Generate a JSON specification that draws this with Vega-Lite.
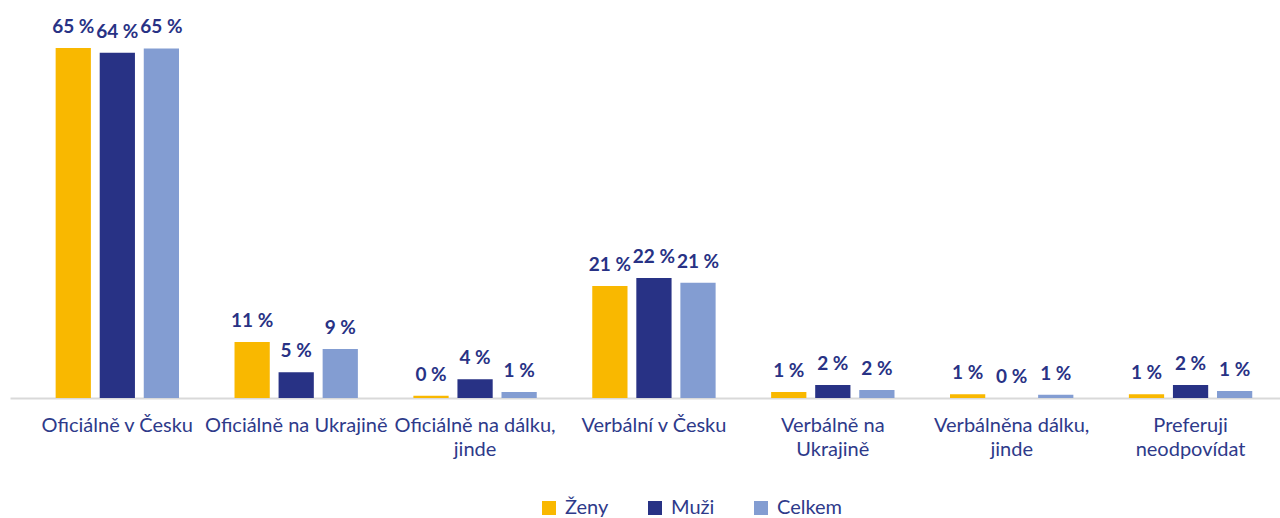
{
  "$schema": "https://vega.github.io/schema/vega-lite/v6.json",
  "width": 1270,
  "height": 377,
  "autosize": {"type": "none"},
  "padding": {"left": 10, "top": 21, "right": 0, "bottom": 120},
  "config": {"view": {"stroke": null}, "font": "Lato"},
  "data": {
    "values": [
      {"kat": "Oficiálně v Česku", "skupina": "Ženy", "hodnota": 65.0, "popisek": "65 %"},
      {"kat": "Oficiálně v Česku", "skupina": "Muži", "hodnota": 64.1, "popisek": "64 %"},
      {"kat": "Oficiálně v Česku", "skupina": "Celkem", "hodnota": 64.9, "popisek": "65 %"},
      {"kat": "Oficiálně na Ukrajině", "skupina": "Ženy", "hodnota": 10.4, "popisek": "11 %"},
      {"kat": "Oficiálně na Ukrajině", "skupina": "Muži", "hodnota": 4.8, "popisek": "5 %"},
      {"kat": "Oficiálně na Ukrajině", "skupina": "Celkem", "hodnota": 9.1, "popisek": "9 %"},
      {"kat": "Oficiálně na dálku,|jinde", "skupina": "Ženy", "hodnota": 0.4, "popisek": "0 %"},
      {"kat": "Oficiálně na dálku,|jinde", "skupina": "Muži", "hodnota": 3.5, "popisek": "4 %"},
      {"kat": "Oficiálně na dálku,|jinde", "skupina": "Celkem", "hodnota": 1.1, "popisek": "1 %"},
      {"kat": "Verbální v Česku", "skupina": "Ženy", "hodnota": 20.8, "popisek": "21 %"},
      {"kat": "Verbální v Česku", "skupina": "Muži", "hodnota": 22.3, "popisek": "22 %"},
      {"kat": "Verbální v Česku", "skupina": "Celkem", "hodnota": 21.4, "popisek": "21 %"},
      {"kat": "Verbálně na|Ukrajině", "skupina": "Ženy", "hodnota": 1.1, "popisek": "1 %"},
      {"kat": "Verbálně na|Ukrajině", "skupina": "Muži", "hodnota": 2.4, "popisek": "2 %"},
      {"kat": "Verbálně na|Ukrajině", "skupina": "Celkem", "hodnota": 1.5, "popisek": "2 %"},
      {"kat": "Verbálněna dálku,|jinde", "skupina": "Ženy", "hodnota": 0.7, "popisek": "1 %"},
      {"kat": "Verbálněna dálku,|jinde", "skupina": "Muži", "hodnota": 0, "popisek": "0 %"},
      {"kat": "Verbálněna dálku,|jinde", "skupina": "Celkem", "hodnota": 0.6, "popisek": "1 %"},
      {"kat": "Preferuji|neodpovídat", "skupina": "Ženy", "hodnota": 0.7, "popisek": "1 %"},
      {"kat": "Preferuji|neodpovídat", "skupina": "Muži", "hodnota": 2.4, "popisek": "2 %"},
      {"kat": "Preferuji|neodpovídat", "skupina": "Celkem", "hodnota": 1.3, "popisek": "1 %"}
    ]
  },
  "encoding": {
    "x": {
      "field": "kat",
      "type": "nominal",
      "sort": null,
      "scale": {"paddingInner": 0, "paddingOuter": 0.05, "align": 1},
      "axis": {
        "title": null,
        "labelAngle": 0,
        "labelFontSize": 20,
        "labelColor": "#2E3A8A",
        "labelPadding": 17,
        "labelBaseline": "top",
        "labelLineHeight": 24,
        "labelLimit": 260,
        "labelExpr": "split(datum.value, '|')",
        "ticks": false,
        "domainColor": "#D9D9D9",
        "domainWidth": 2,
        "grid": false
      }
    },
    "xOffset": {
      "field": "skupina",
      "type": "nominal",
      "sort": ["Ženy", "Muži", "Celkem"],
      "scale": {"paddingInner": 0.2, "paddingOuter": 0.63}
    },
    "y": {
      "field": "hodnota",
      "type": "quantitative",
      "scale": {"domain": [0, 70]},
      "axis": null
    }
  },
  "layer": [
    {
      "mark": {"type": "bar"},
      "encoding": {
        "color": {
          "field": "skupina",
          "type": "nominal",
          "scale": {"domain": ["Ženy", "Muži", "Celkem"], "range": ["#F9B800", "#283285", "#839DD2"]},
          "legend": {
            "title": null,
            "orient": "none",
            "direction": "horizontal",
            "legendX": 529,
            "legendY": 477,
            "symbolType": "square",
            "symbolSize": 196,
            "symbolStrokeWidth": 0,
            "labelFontSize": 20,
            "labelColor": "#2E3A8A",
            "columnPadding": 36,
            "labelOffset": 6
          }
        }
      }
    },
    {
      "mark": {"type": "text", "dy": -15, "baseline": "alphabetic", "fontSize": 19, "fontWeight": "bold", "color": "#283285"},
      "encoding": {"text": {"field": "popisek"}}
    }
  ]
}
